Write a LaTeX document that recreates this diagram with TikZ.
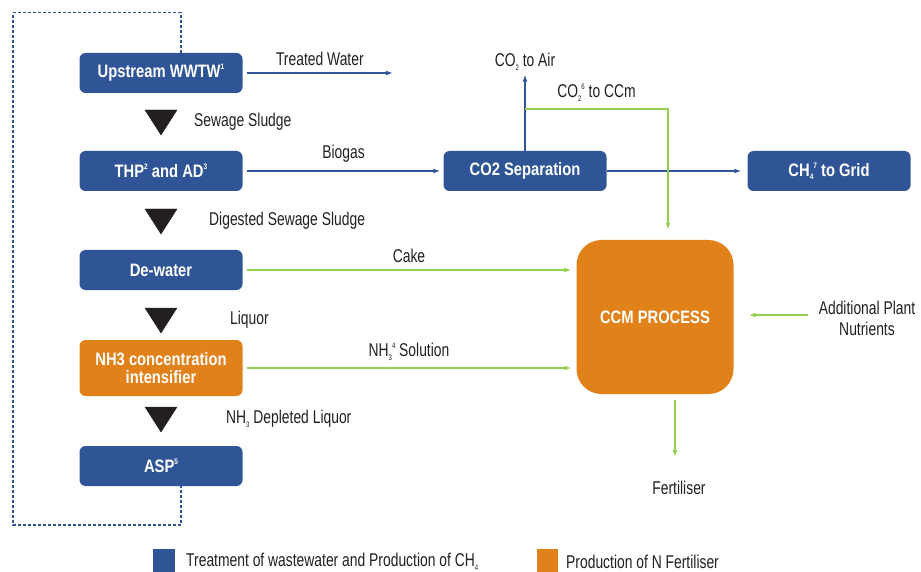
\documentclass[tikz,border=0pt]{standalone}
\usepackage{fontspec}
\setmainfont[FakeStretch=0.75, BoldFeatures={FakeStretch=0.82}]{Liberation Sans}
\usetikzlibrary{arrows.meta}

\definecolor{wwblue}{RGB}{47,85,151}
\definecolor{nforange}{RGB}{224,129,25}
\definecolor{ccmgreen}{RGB}{146,208,80}
\definecolor{txtgray}{RGB}{35,31,32}

\newcommand{\subidx}[1]{\raisebox{-0.35ex}{\fontsize{8}{8}\selectfont #1}}
\newcommand{\supidx}[1]{\raisebox{0.85ex}{\fontsize{8}{8}\selectfont #1}}

\tikzset{
  procbox/.style={rounded corners=6, minimum width=163, minimum height=40,
    text=white, font=\fontsize{18}{20}\selectfont\bfseries, align=center, inner sep=2},
  bluebox/.style={procbox, fill=wwblue},
  orangebox/.style={procbox, fill=nforange},
  lbl/.style={text=txtgray, font=\fontsize{18.5}{21}\selectfont, inner sep=0},
  blueline/.style={draw=wwblue, line width=1.4, -{Latex[length=7,width=5]}},
  greenline/.style={draw=ccmgreen, line width=1.4, -{Latex[length=7,width=5]}},
  dashloop/.style={draw=wwblue, line width=1.2, dash pattern=on 3 off 2}
}

\begin{document}
\begin{tikzpicture}[x=1pt,y=-1pt]
    \useasboundingbox (0,0) rectangle (921,572);
    % main process column
    \node[bluebox] (wwtw) at (161,73) {Upstream WWTW\supidx{1}};
    \node[bluebox] (thp) at (161,171) {THP\supidx{2} and AD\supidx{3}};
    \node[bluebox] (dewater) at (161,270) {De-water};
    \node[orangebox, minimum height=56, align=center] (nhconc) at (161,368) {NH3 concentration\\[-2pt]intensifier};
    \node[bluebox] (asp) at (161,466) {ASP\supidx{5}};
    \filldraw[txtgray] (145,110) -- (177,110) -- (161,135) -- cycle;
    \filldraw[txtgray] (145,209) -- (177,209) -- (161,234) -- cycle;
    \filldraw[txtgray] (145,308) -- (177,308) -- (161,333) -- cycle;
    \filldraw[txtgray] (145,407) -- (177,407) -- (161,432) -- cycle;
    \node[lbl, anchor=west] (sludge) at (194,122) {Sewage Sludge};
    \node[lbl, anchor=west] (digested) at (209,221) {Digested Sewage Sludge};
    \node[lbl, anchor=west] (liquor) at (230,320) {Liquor};
    \node[lbl, anchor=west] (depleted) at (226,419) {NH\subidx{3} Depleted Liquor};
    \draw[dashloop] ([xshift=20]wwtw.north) -- ++(0,-40) -| (13,525) -| ([xshift=20]asp.south);
    % gas side
    \node[bluebox] (cosep) at (525,171) {CO2 Separation};
    \node[bluebox] (grid) at (829,171) {CH\subidx{4}\supidx{7} to Grid};
    \node[lbl] (air) at (525,62) {CO\subidx{2} to Air};
    \coordinate (water) at (393,73);
    \coordinate (split) at (525,109);
    \draw[blueline] ([xshift=4]wwtw.east) -- (water) node[lbl, midway, above=7] (treated) {Treated Water};
    \draw[blueline] ([xshift=4]thp.east) -- ([xshift=-3]cosep.west) node[lbl, midway, above=8] (biogas) {Biogas};
    \draw[blueline] (cosep.east) -- ([xshift=-6]grid.west);
    \draw[blueline] (cosep.north) -- ([yshift=-4]air.south);
    % fertiliser side
    \node[orangebox, minimum width=157, minimum height=154, rounded corners=25] (ccm) at (655,317) {CCM PROCESS};
    \node[lbl, align=center] (nutrients) at (867,318) {Additional Plant\\Nutrients};
    \node[lbl] (fert) at (679,488) {Fertiliser};
    \coordinate (fertend) at (675,457);
    \draw[greenline] (split) -| ([xshift=13,yshift=10]ccm.north) node[lbl, pos=0.25, above=7] (ccmgas) {CO\subidx{2}\supidx{6} to CCm};
    \draw[greenline] ([xshift=4]dewater.east) -- ([xshift=-5]ccm.west |- dewater) node[lbl, midway, above=7] (cake) {Cake};
    \draw[greenline] ([xshift=4]nhconc.east) -- ([xshift=-5]ccm.west |- nhconc) node[lbl, midway, above=7] (solution) {NH\subidx{3}\supidx{4} Solution};
    \draw[greenline] ([xshift=-11,yshift=3]nutrients.west) -- ([xshift=15,yshift=3]ccm.east |- nutrients);
    \draw[greenline] ([xshift=20,yshift=-6]ccm.south) -- (fertend);
    % legend
    \fill[wwblue] (153,549) rectangle (175,572);
    \node[lbl, anchor=west] (legblue) at (186,562) {Treatment of wastewater and Production of CH\subidx{4}};
    \fill[nforange] (537,549) rectangle (558,572);
    \node[lbl, anchor=west] (legorange) at (566,562) {Production of N Fertiliser};
\end{tikzpicture}
\end{document}
